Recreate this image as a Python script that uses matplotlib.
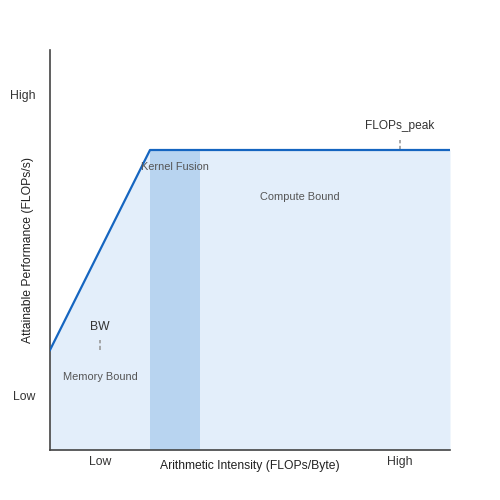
import matplotlib
matplotlib.use("Agg")
import matplotlib.pyplot as plt

plt.rcParams['font.family'] = ['Liberation Sans', 'DejaVu Sans']

# roofline data (abstract units)
roof_x = [0, 2, 8]
roof_y = [2, 6, 6]
fusion_x = [2, 3]
x_ticks = [1, 7]
x_ticklabels = ["Low", "High"]
y_ticks = [1.1, 7.1]
y_ticklabels = ["Low", "High"]

fig = plt.figure(figsize=(5, 5), dpi=100)
ax = fig.add_axes([0.1, 0.1, 0.8, 0.8])
ax.set_xlim(0, 8)
ax.set_ylim(0, 8)

ax.fill_between(roof_x, roof_y, 0, color='#e3eefa', zorder=1, linewidth=0)
ax.fill_between(fusion_x, [roof_y[1]] * 2, 0, color='#b8d4f0', zorder=2, linewidth=0)
ax.plot(roof_x, roof_y, color='#1565c0', linewidth=1.6, zorder=4)

# markers
ax.plot([1, 1], [2, 2.2], color='#999999', linestyle=(0, (2.5, 1.5)), linewidth=1.2, zorder=3)
ax.plot([7, 7], [6, 6.2], color='#999999', linestyle=(0, (2.5, 1.5)), linewidth=1.2, zorder=3)

ax.text(1, 2.47, "BW", ha='center', va='center', fontsize=8.7, color='#333333')
ax.text(1, 1.47, "Memory Bound", ha='center', va='center', fontsize=7.9, color='#555555')
ax.text(7, 6.47, "FLOPs_peak", ha='center', va='center', fontsize=8.6, color='#333333')
ax.text(2.5, 5.67, "Kernel Fusion", ha='center', va='center', fontsize=7.9, color='#555555', zorder=5)
ax.text(5, 5.07, "Compute Bound", ha='center', va='center', fontsize=7.9, color='#555555')

ax.set_xticks(x_ticks)
ax.set_xticklabels(x_ticklabels)
ax.set_yticks(y_ticks)
ax.set_yticklabels(y_ticklabels)
ax.tick_params(length=0, labelsize=8.8, colors='#333333')
ax.tick_params(axis='x', pad=4)
ax.tick_params(axis='y', pad=10.5)
ax.set_xlabel("Arithmetic Intensity (FLOPs/Byte)", fontsize=8.7, color='#222222', va='center')
ax.set_ylabel("Attainable Performance (FLOPs/s)", fontsize=8.7, color='#222222', va='center')
ax.xaxis.set_label_coords(0.5, -0.04)
ax.yaxis.set_label_coords(-0.056, 0.5)

for s in ['top', 'right']:
    ax.spines[s].set_visible(False)
for s in ['left', 'bottom']:
    ax.spines[s].set_color('#444444')
    ax.spines[s].set_linewidth(1.2)

fig.savefig("out.png", dpi=100)
